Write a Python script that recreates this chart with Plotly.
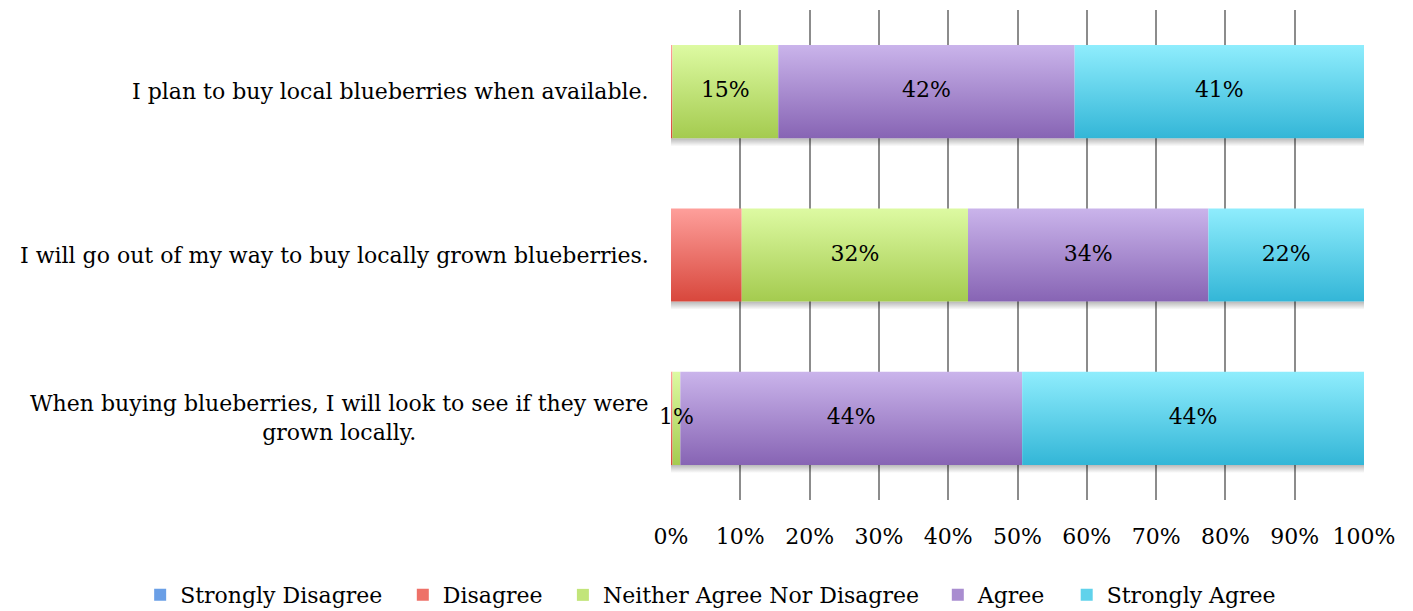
import plotly.graph_objects as go

# Survey statements (top to bottom) and the share of responses per answer
statements = [
    "I plan to buy local blueberries when available.",
    "I will go out of my way to buy locally grown blueberries.",
    "When buying blueberries, I will look to see if they were<br>grown locally.",
]
answers = ["Strongly Disagree", "Disagree", "Neither Agree Nor Disagree", "Agree", "Strongly Agree"]

strongly_disagree = [0, 0, 0]
disagree = [0.2, 10, 0.2]
neither = [15, 32, 1]
agree = [42, 34, 44]
strongly_agree = [41, 22, 44]

# which values carry a printed label
show_label = {
    "Strongly Disagree": [False, False, False],
    "Disagree": [False, False, False],
    "Neither Agree Nor Disagree": [True, True, True],
    "Agree": [True, True, True],
    "Strongly Agree": [True, True, True],
}

series = [strongly_disagree, disagree, neither, agree, strongly_agree]

# vertical gradient per answer: (bottom colour, top colour)
gradients = [
    ("#3a7bd5", "#9fc5f6"),
    ("#d8473c", "#fe9f9b"),
    ("#a4cb4f", "#ddfaa2"),
    ("#8764b4", "#cab4eb"),
    ("#33b6d7", "#8fedfd"),
]
swatch = ["#6a9fe6", "#ee7168", "#c2e57a", "#a98dd0", "#60d2eb"]

# horizontal placement of each legend entry (paper units)
legend_x = [-0.766, -0.387, -0.156, 0.385, 0.571]

FONT = "DejaVu Serif"
FS = 22
BAR_HALF = 0.285

n = len(statements)
ypos = [n - 1 - i for i in range(n)]  # first statement at the top
totals = [sum(s[i] for s in series) for i in range(n)]

fig = go.Figure()

# soft drop shadow under each bar
for i in range(n):
    yb = ypos[i] - BAR_HALF
    fig.add_trace(go.Scatter(
        x=[0, 100, 100, 0, 0],
        y=[yb - 0.05, yb - 0.05, yb, yb, yb - 0.05],
        fill="toself", mode="lines", line=dict(width=0),
        fillgradient=dict(type="vertical",
                          colorscale=[[0, "rgba(0,0,0,0)"], [1, "rgba(0,0,0,0.28)"]]),
        showlegend=False, hoverinfo="skip",
    ))

legend_ids = ["legend"] + [f"legend{k + 1}" for k in range(1, len(answers))]

text_x, text_y, text_s = [], [], []
for k, (name, vals) in enumerate(zip(answers, series)):
    bottom_c, top_c = gradients[k]
    for i in range(n):
        if vals[i] <= 0:
            continue
        left = sum(series[j][i] for j in range(k)) / totals[i] * 100
        right = left + vals[i] / totals[i] * 100
        y0, y1 = ypos[i] - BAR_HALF, ypos[i] + BAR_HALF
        fig.add_trace(go.Scatter(
            x=[left, right, right, left, left], y=[y0, y0, y1, y1, y0],
            fill="toself", mode="lines", line=dict(width=0),
            fillgradient=dict(type="vertical",
                              colorscale=[[0, bottom_c], [1, top_c]]),
            name=name, showlegend=False, hoverinfo="skip",
        ))
        if show_label[name][i]:
            text_x.append((left + right) / 2)
            text_y.append(ypos[i])
            text_s.append(f"{vals[i]:.0f}%")
    # legend swatch for the answer
    fig.add_trace(go.Bar(x=[None], y=[None], orientation="h", name=name,
                         legend=legend_ids[k],
                         marker=dict(color=swatch[k], line=dict(width=0))))

fig.add_trace(go.Scatter(
    x=text_x, y=text_y, text=text_s, mode="text", cliponaxis=False,
    textfont=dict(family=FONT, size=FS, color="#000000"),
    showlegend=False, hoverinfo="skip",
))

# statement labels, centred line by line
for i, s in enumerate(statements):
    fig.add_annotation(
        x=-0.029, xref="paper", y=ypos[i], yref="y",
        text=s, showarrow=False, xanchor="right", yanchor="middle",
        align="center", font=dict(family=FONT, size=FS, color="#000000"),
    )

legend_style = dict(orientation="h", xanchor="left", y=-0.194, yanchor="middle",
                    font=dict(family=FONT, size=FS, color="#000000"),
                    bgcolor="rgba(0,0,0,0)")
for k, lid in enumerate(legend_ids):
    fig.update_layout({lid: dict(legend_style, x=legend_x[k])})

fig.update_layout(
    width=1413, height=611,
    margin=dict(l=671, r=49, t=10, b=111, autoexpand=False),
    paper_bgcolor="white", plot_bgcolor="white",
    showlegend=True,
    xaxis=dict(range=[0, 100], tickvals=list(range(0, 101, 10)),
               ticktext=[f"{v}%" for v in range(0, 101, 10)],
               showgrid=True, gridcolor="#8c8c8c", gridwidth=2,
               zeroline=False, showline=False, ticks="",
               ticklabelstandoff=21,
               tickfont=dict(family=FONT, size=FS, color="#000000")),
    yaxis=dict(range=[-0.5, n - 0.5], showticklabels=False, showgrid=False,
               zeroline=False, showline=False, ticks=""),
)

fig.write_html("out.html")
